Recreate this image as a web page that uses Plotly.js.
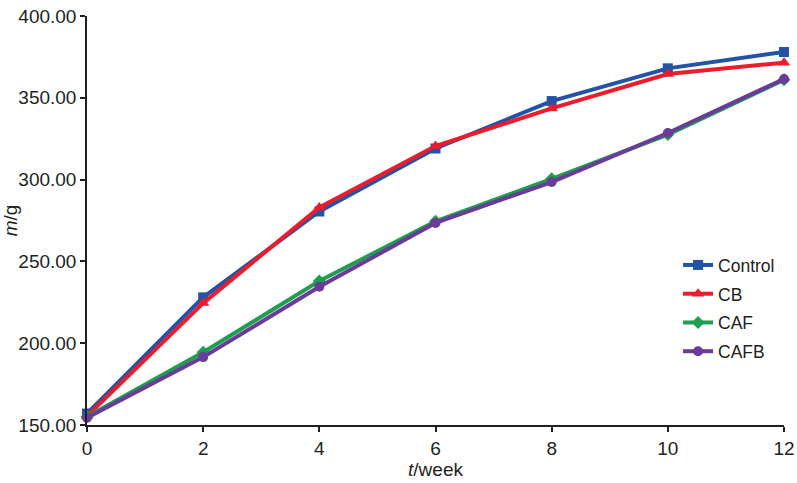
<!DOCTYPE html>
<html>
<head>
<meta charset="utf-8">
<script src="https://cdn.plot.ly/plotly-3.0.1.min.js"></script>
<style>
  html, body { margin: 0; padding: 0; background: #fff; }
  #chart { width: 797px; height: 483px; }
</style>
</head>
<body>
<div id="chart"></div>
<script>
const weeks = [0, 2, 4, 6, 8, 10, 12];
const control = [157.0, 228.0, 280.5, 319.0, 348.0, 368.0, 378.0];
const cb = [155.5, 224.5, 283.0, 320.5, 343.5, 364.5, 371.5];
const caf = [155.0, 194.5, 238.0, 274.5, 300.5, 327.5, 361.0];
const cafb = [154.5, 191.5, 234.5, 273.5, 298.5, 328.5, 361.5];

function buildTrace(name, y, color, symbol, size) {
  return {
    x: weeks,
    y,
    name,
    legendgroup: name,
    mode: "lines+markers",
    line: { color, width: 4 },
    marker: { color, symbol, size },
    cliponaxis: false
  };
}

const traces = [
  buildTrace("Control", control, "#2353a6", "square", 10),
  buildTrace("CB", cb, "#ec1c2c", "triangle-up", 11),
  buildTrace("CAF", caf, "#1e9f50", "diamond", 10),
  buildTrace("CAFB", cafb, "#6a3b98", "circle", 10)
];

const axisFont = { family: "Liberation Sans, Arial, sans-serif", size: 19, color: "#231f20" };

Plotly.newPlot("chart", traces, {
  width: 797,
  height: 483,
  margin: { t: 16, r: 13, l: 87, b: 58 },
  paper_bgcolor: "#fff",
  plot_bgcolor: "#fff",
  font: axisFont,
  xaxis: {
    range: [0, 12],
    tickvals: weeks,
    ticks: "outside",
    ticklen: 5,
    tickwidth: 1.5,
    tickcolor: "#231f20",
    showline: true,
    linecolor: "#231f20",
    linewidth: 1.5,
    showgrid: false,
    zeroline: false,
    title: { text: "<i>t</i>/week", font: axisFont, standoff: 2 }
  },
  yaxis: {
    range: [150, 400],
    dtick: 50,
    tickformat: ".2f",
    ticks: "outside",
    ticklen: 5,
    tickwidth: 1.5,
    tickcolor: "#231f20",
    showline: true,
    linecolor: "#231f20",
    linewidth: 1.5,
    showgrid: false,
    zeroline: false,
    title: { text: "<i>m</i>/g", font: axisFont, standoff: 4 }
  },
  legend: {
    x: 0.848,
    y: 0.435,
    xanchor: "left",
    yanchor: "top",
    traceorder: "grouped",
    tracegroupgap: 3,
    font: { family: "Liberation Sans, Arial, sans-serif", size: 17.5, color: "#231f20" },
    bgcolor: "rgba(0,0,0,0)",
    itemwidth: 30
  },
  showlegend: true
}, { displayModeBar: false });
</script>
</body>
</html>
